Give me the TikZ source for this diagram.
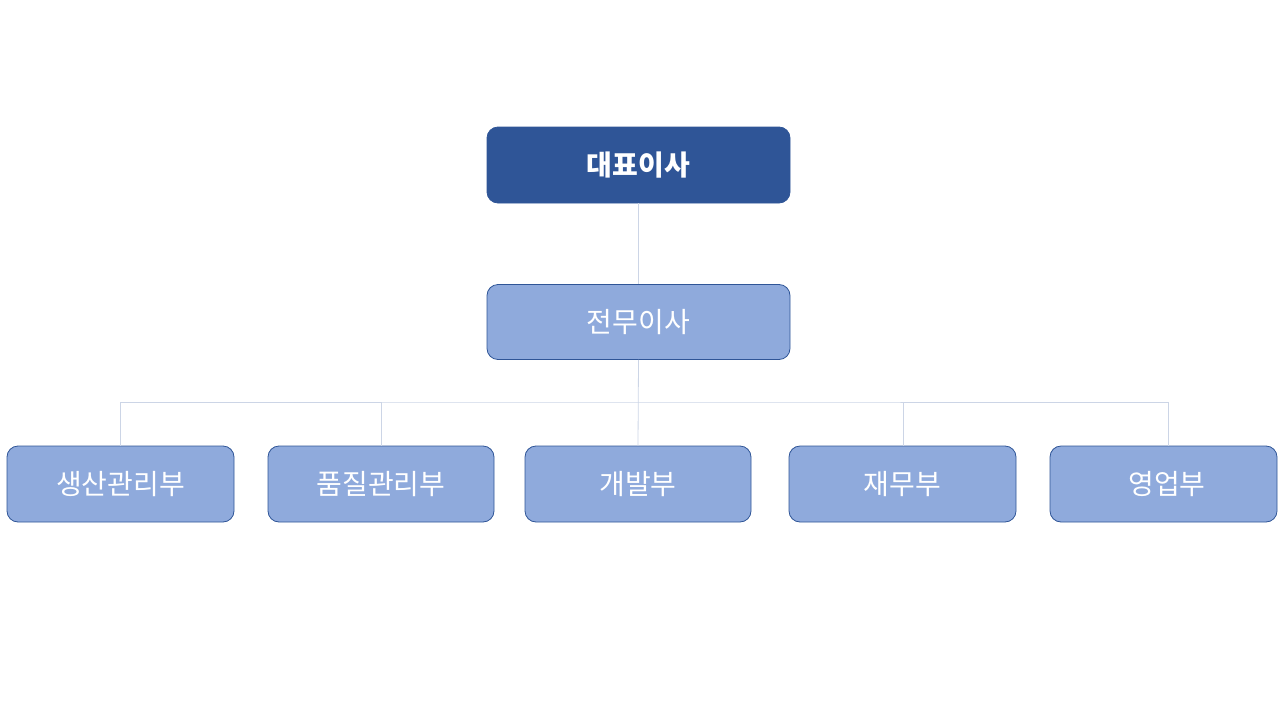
\documentclass[tikz,border=0pt]{standalone}
\usepackage{fontspec}
\newfontfamily\kr{Noto Sans CJK KR}
\definecolor{dark}{HTML}{2F5597}
\definecolor{light}{HTML}{8FAADC}
\definecolor{conn}{HTML}{CCD5E6}
\begin{document}
\begin{tikzpicture}[x=1pt,y=-1pt,
  box/.style={draw=dark,line width=0.8pt,fill=light,rounded corners=11pt,text=white,font=\kr\fontsize{28}{32}\selectfont,inner sep=0pt},
  topbox/.style={box,fill=dark,font=\kr\bfseries\fontsize{28}{32}\selectfont},
  link/.style={draw=conn,line width=0.8pt}]
\useasboundingbox (0,0) rectangle (1280,720);
\node[topbox,minimum width=303pt,minimum height=76pt] (ceo) at (638.5,165) {대표이사};
\node[box,minimum width=303pt,minimum height=75pt] (exec) at (638.5,322) {전무이사};
\node[box,minimum width=227pt,minimum height=76pt] (d1) at (120.5,484) {생산관리부};
\node[box,minimum width=226pt,minimum height=76pt] (d2) at (381,484) {품질관리부};
\node[box,minimum width=226pt,minimum height=76pt] (d3) at (638,484) {개발부};
\node[box,minimum width=227pt,minimum height=76pt] (d4) at (902.5,484) {재무부};
\node[box,minimum width=227pt,minimum height=76pt,text width=227pt,align=center] (d5) at (1163.5,484) {\hspace*{7pt}영업부};
\coordinate (bus) at (638,402);
\path[link] (ceo.south) -- (exec.north);
\path[link] (exec.south) -- (d3.north);
\path[link] (d1.north -| 120,0) |- (bus) -| (1168,446);
\path[link] (d2.north) -- (d2.north |- bus);
\path[link] (d4.north -| 903,0) -- (903,402);
\end{tikzpicture}
\end{document}
